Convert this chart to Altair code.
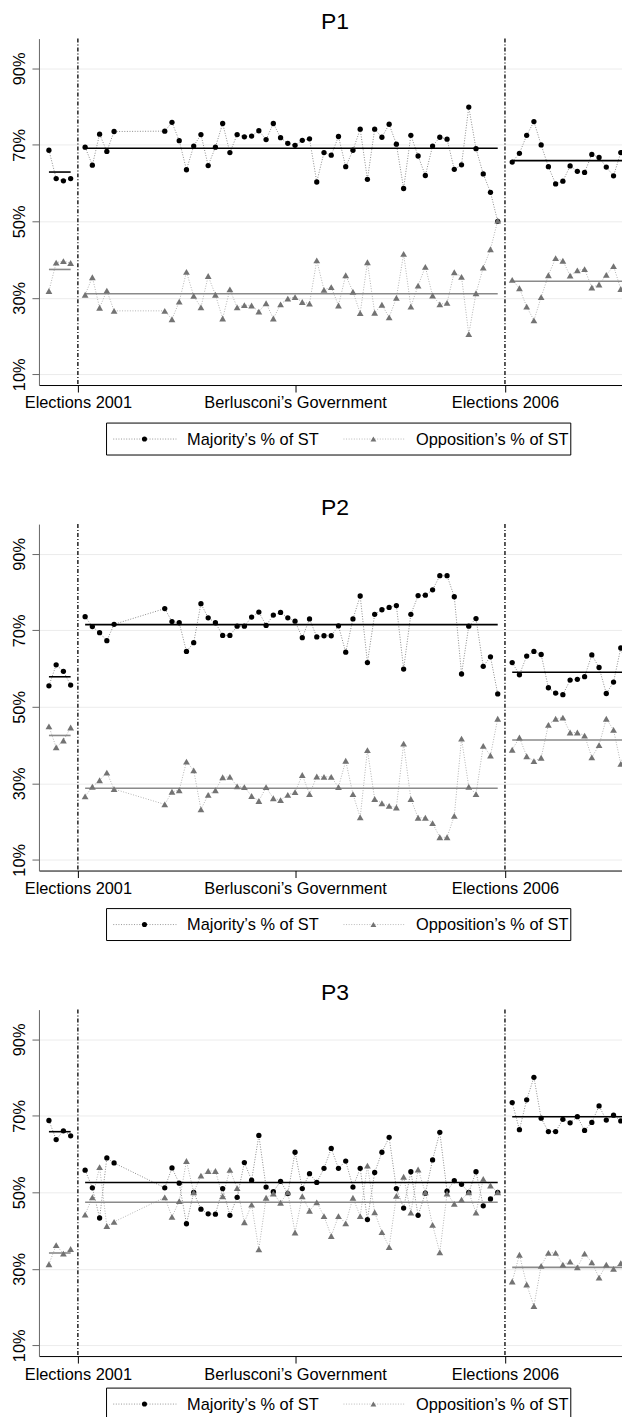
import altair as alt
import pandas as pd

FONT = "Liberation Sans"

# ---------------- data ----------------
pre_months = [0, 1, 2, 3]
mid_months = [5, 6, 7, 8, 9,
              16, 17, 18, 19, 20, 21, 22, 23, 24, 25, 26, 27, 28, 29, 30,
              31, 32, 33, 34, 35, 36, 37, 38, 39, 40, 41, 42, 43, 44, 45,
              46, 47, 48, 49, 50, 51, 52, 53, 54, 55, 56, 57, 58, 59, 60,
              61, 62]
post_months = [64, 65, 66, 67, 68, 69, 70, 71, 72, 73, 74, 75, 76, 77, 78, 79, 80]

# P1
p1_maj_pre = [68.6, 61.2, 60.6, 61.2]
p1_maj_mid = [69.4, 64.7, 72.8, 68.3, 73.5,
              73.6, 75.9, 71.1, 63.5, 69.7, 72.7, 64.6, 69.4, 75.6, 68.0, 72.7, 72.1, 72.3, 73.7, 71.4,
              75.6, 71.9, 70.4, 69.9, 71.2, 71.6, 60.3, 68.0, 67.3, 72.2, 64.3, 68.6, 74.1, 61.0, 74.1,
              72.0, 75.4, 70.2, 58.6, 72.5, 67.1, 62.0, 69.7, 72.0, 71.5, 63.6, 64.8, 79.9, 69.0, 62.4,
              57.6, 50.0]
p1_maj_post = [65.5, 67.8, 72.5, 76.1, 70.0, 64.3, 59.8, 60.5, 64.5, 63.1, 62.8, 67.5, 66.7, 64.2, 61.9, 68.0, 65.0]
p1_opp_pre = [31.8, 39.2, 39.6, 39.1]
p1_opp_mid = [30.8, 35.4, 27.4, 31.9, 26.6,
              26.6, 24.4, 29.0, 36.8, 30.5, 27.5, 35.7, 30.8, 24.6, 32.2, 27.5, 28.1, 28.0, 26.4, 28.6,
              24.6, 28.3, 29.8, 30.2, 28.9, 28.5, 39.8, 32.1, 32.8, 28.0, 35.9, 31.6, 26.0, 39.3, 26.1,
              28.2, 24.9, 30.0, 41.5, 27.7, 33.2, 38.1, 30.6, 28.3, 28.7, 36.7, 35.5, 20.5, 31.2, 37.9,
              42.7, 50.2]
p1_opp_post = [34.7, 32.5, 27.7, 24.1, 30.2, 35.9, 40.4, 39.7, 35.8, 37.2, 37.5, 32.7, 33.5, 36.0, 38.3, 32.3, 35.2]

# P2
p2_maj_pre = [55.5, 61.0, 59.3, 55.7]
p2_maj_mid = [73.6, 71.0, 69.4, 67.3, 71.6,
              75.7, 72.3, 72.0, 64.5, 66.8, 77.0, 73.3, 72.0, 68.7, 68.7, 71.1, 71.1, 73.5, 74.8, 71.3,
              74.0, 74.7, 73.3, 72.4, 68.1, 73.0, 68.3, 68.6, 68.6, 71.2, 64.3, 73.0, 79.0, 61.6, 74.2,
              75.4, 76.0, 76.5, 59.9, 74.2, 79.1, 79.2, 80.6, 84.3, 84.3, 78.8, 58.6, 71.1, 73.1, 60.6,
              63.1, 53.4]
p2_maj_post = [61.6, 58.4, 63.3, 64.5, 63.7, 55.0, 53.6, 53.2, 57.0, 57.2, 57.9, 63.6, 60.3, 53.5, 56.5, 65.4, 59.1]
p2_opp_pre = [44.9, 39.4, 41.2, 44.6]
p2_opp_mid = [26.6, 29.1, 30.8, 32.8, 28.5,
              24.5, 27.8, 28.2, 35.7, 33.4, 23.2, 27.0, 28.2, 31.6, 31.7, 29.2, 29.0, 26.7, 25.4, 29.0,
              26.1, 25.6, 27.0, 27.7, 32.2, 27.2, 31.8, 31.7, 31.7, 29.0, 35.9, 27.2, 21.1, 38.7, 25.9,
              24.8, 24.1, 23.7, 40.4, 25.9, 21.0, 21.0, 19.6, 15.9, 15.9, 21.5, 41.7, 29.1, 27.2, 39.8,
              37.3, 46.9]
p2_opp_post = [38.8, 42.0, 37.1, 35.8, 36.7, 45.3, 46.9, 47.2, 43.3, 43.3, 42.5, 36.8, 40.0, 46.9, 44.0, 35.1, 41.2]

# P3
p3_maj_pre = [68.8, 63.8, 66.1, 64.8]
p3_maj_mid = [55.8, 51.2, 43.3, 59.0, 57.7,
              51.2, 56.4, 52.4, 41.8, 50.0, 45.6, 44.4, 44.3, 51.0, 44.0, 48.7, 57.8, 53.2, 64.9, 51.4,
              50.2, 52.9, 49.7, 60.5, 51.0, 54.9, 52.6, 56.3, 61.5, 56.3, 58.2, 51.4, 56.3, 42.9, 55.2,
              60.5, 64.4, 51.0, 45.9, 55.4, 44.0, 49.8, 58.5, 65.7, 50.3, 53.1, 52.1, 50.0, 55.4, 46.5,
              48.3, 50.0]
p3_maj_post = [73.5, 66.4, 74.2, 80.1, 69.4, 65.9, 65.9, 69.1, 68.2, 69.8, 66.2, 68.3, 72.6, 68.9, 70.2, 68.7, 68.9]
p3_opp_pre = [31.2, 36.2, 34.0, 35.2]
p3_opp_mid = [44.2, 48.7, 56.6, 41.2, 42.3,
              48.7, 43.6, 47.7, 58.2, 50.0, 54.4, 55.6, 55.6, 49.0, 55.9, 51.1, 42.2, 46.8, 35.1, 48.6,
              49.7, 47.3, 50.0, 39.5, 49.0, 45.2, 47.4, 43.8, 38.6, 43.8, 41.9, 48.6, 43.8, 57.0, 44.8,
              39.6, 35.7, 49.1, 54.1, 44.7, 56.0, 50.0, 41.5, 34.3, 49.7, 47.0, 48.1, 50.0, 44.7, 53.5,
              51.8, 50.0]
p3_opp_post = [26.7, 33.7, 25.9, 20.3, 30.8, 34.2, 34.2, 31.1, 31.9, 30.4, 34.0, 31.7, 27.7, 31.1, 30.0, 31.5, 31.5]

election_months = [4, 63]
tick_months = [4, 34, 63]
tick_labels = ["Elections 2001", "Berlusconi\u2019s Government", "Elections 2006"]
y_ticks = [10, 30, 50, 70, 90]
legend_labels = ["Majority\u2019s % of ST", "Opposition\u2019s % of ST"]
panel_titles = ["P1", "P2", "P3"]

series_data = {
    "P1": {"maj": (p1_maj_pre, p1_maj_mid, p1_maj_post), "opp": (p1_opp_pre, p1_opp_mid, p1_opp_post)},
    "P2": {"maj": (p2_maj_pre, p2_maj_mid, p2_maj_post), "opp": (p2_opp_pre, p2_opp_mid, p2_opp_post)},
    "P3": {"maj": (p3_maj_pre, p3_maj_mid, p3_maj_post), "opp": (p3_opp_pre, p3_opp_mid, p3_opp_post)},
}

# ---------------- layout constants ----------------
W = 593
H = 347
X_DOMAIN = [-1.379, 80.41]
Y_DOMAIN = [7.2, 97.8]
MAJ_COLOR = "#000000"
OPP_COLOR = "#737373"
FS = 16.4
LEGEND_GAP = {"P1": 38.1, "P2": 38.1, "P3": 32.1}

xscale = alt.Scale(domain=X_DOMAIN, nice=False, zero=False)
yscale = alt.Scale(domain=Y_DOMAIN, nice=False, zero=False)

label_expr = " : ".join(
    [f"datum.value == {m} ? '{t}'" for m, t in zip(tick_months[:-1], tick_labels[:-1])]
    + [f"'{tick_labels[-1]}'"]
)

x_axis = alt.Axis(values=tick_months, labelExpr=label_expr, grid=False, title=None,
                  tickSize=7, tickColor="black", domainColor="black", labelFontSize=FS,
                  labelFont=FONT, labelColor="black", labelPadding=3, labelOverlap=False,
                  labelFlush=False, labelBound=False, labelAngle=0, labelLimit=400)
y_axis = alt.Axis(values=y_ticks, labelExpr="datum.value + '%'", grid=True, gridColor="#ececec",
                  gridWidth=1, title=None, tickSize=7, tickColor="#666666", domainColor="#666666",
                  labelFontSize=FS, labelFont=FONT, labelColor="black", labelAngle=270,
                  labelAlign="center", labelBaseline="alphabetic", labelPadding=7.5)


def panel(name):
    rows = []
    for ser, segs in series_data[name].items():
        for seg, months, vals in zip(["pre", "mid", "post"], [pre_months, mid_months, post_months], segs):
            for m, v in zip(months, vals):
                rows.append({"month": m, "value": v, "series": ser, "segment": seg})
    df = pd.DataFrame(rows)
    base = alt.Chart(df)
    maj = base.transform_filter(alt.datum.series == "maj")
    opp = base.transform_filter(alt.datum.series == "opp")

    vlines = alt.Chart(pd.DataFrame({"month": election_months})).mark_rule(
        color="black", strokeWidth=1.3, strokeDash=[4, 2, 1, 2]
    ).encode(x=alt.X("month:Q", scale=xscale, axis=x_axis))

    def conn(src, color):
        return src.mark_line(color=color, strokeWidth=1, strokeDash=[1, 1.6]).encode(
            x=alt.X("month:Q", scale=xscale, axis=x_axis),
            y=alt.Y("value:Q", scale=yscale, axis=y_axis),
            detail="segment:N",
        )

    def means(src, color):
        return src.transform_aggregate(
            mean="mean(value)", lo="min(month)", hi="max(month)", groupby=["segment"]
        ).mark_rule(color=color, strokeWidth=1.6).encode(
            x=alt.X("lo:Q", scale=xscale, axis=x_axis),
            x2="hi:Q",
            y=alt.Y("mean:Q", scale=yscale, axis=y_axis),
        )

    maj_pts = maj.mark_point(shape="circle", filled=True, size=28, color=MAJ_COLOR, opacity=1).encode(
        x=alt.X("month:Q", scale=xscale, axis=x_axis),
        y=alt.Y("value:Q", scale=yscale, axis=y_axis),
    )
    opp_pts = opp.mark_point(shape="triangle-up", filled=True, size=46, color=OPP_COLOR, opacity=1).encode(
        x=alt.X("month:Q", scale=xscale, axis=x_axis),
        y=alt.Y("value:Q", scale=yscale, axis=y_axis),
    )

    # legend drawn below the plot
    ly = H + LEGEND_GAP[name]
    lh = 32
    lc = ly + 16
    leg_df0 = pd.DataFrame({"label": [legend_labels[0]]})
    leg_df1 = pd.DataFrame({"label": [legend_labels[1]]})
    box = alt.Chart(leg_df0).mark_rect(fillOpacity=0, stroke="black", strokeWidth=1).encode(
        x=alt.value(67.7), x2=alt.value(532.7), y=alt.value(ly), y2=alt.value(ly + lh))
    l1 = alt.Chart(leg_df0).mark_rule(color="#999999", strokeWidth=1, strokeDash=[1, 1.6]).encode(
        x=alt.value(74.4), x2=alt.value(137.7), y=alt.value(lc))
    m1 = alt.Chart(leg_df0).mark_point(shape="circle", filled=True, size=26, color=MAJ_COLOR, opacity=1).encode(
        x=alt.value(105.7), y=alt.value(lc))
    t1 = alt.Chart(leg_df0).mark_text(align="left", baseline="alphabetic", fontSize=FS, font=FONT,
                                      color="black").encode(
        x=alt.value(148.4), y=alt.value(lc + 5.8), text="label:N")
    l2 = alt.Chart(leg_df1).mark_rule(color="#bbbbbb", strokeWidth=1, strokeDash=[1, 1.6]).encode(
        x=alt.value(305), x2=alt.value(366.7), y=alt.value(lc))
    m2 = alt.Chart(leg_df1).mark_point(shape="triangle-up", filled=True, size=34, color=OPP_COLOR, opacity=1).encode(
        x=alt.value(335), y=alt.value(lc))
    t2 = alt.Chart(leg_df1).mark_text(align="left", baseline="alphabetic", fontSize=FS, font=FONT,
                                      color="black").encode(
        x=alt.value(377.7), y=alt.value(lc + 5.8), text="label:N")

    return alt.layer(
        vlines, conn(maj, "#8c8c8c"), conn(opp, "#b4b4b4"),
        means(maj, "black"), means(opp, "#8a8a8a"),
        maj_pts, opp_pts,
        box, l1, m1, t1, l2, m2, t2,
    ).properties(
        width=W, height=H,
        title=alt.TitleParams(text=name, fontSize=23, font=FONT, fontWeight="normal",
                              color="black", anchor="middle", frame="group", offset=3.7),
    )


chart = alt.vconcat(*[panel(p) for p in panel_titles], spacing=40.3).properties(
    padding={"left": 3, "top": 1.5, "right": -10, "bottom": -5.7},
    background="white",
).configure_view(strokeWidth=0)

chart.save("out.html", embed_options={"renderer": "svg", "actions": False})
